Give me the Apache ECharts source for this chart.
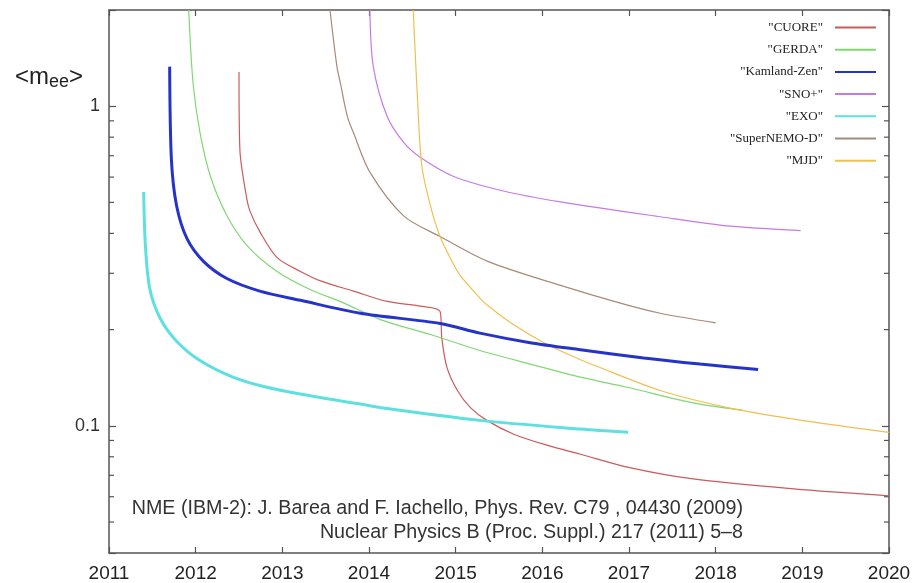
<!DOCTYPE html>
<html>
<head>
<meta charset="utf-8">
<script src="https://cdn.jsdelivr.net/npm/echarts@6/dist/echarts.min.js"></script>
<style>
  html, body { margin: 0; padding: 0; background: #fff; }
  #chart { width: 914px; height: 583px; }
</style>
</head>
<body>
<div id="chart"></div>
<script>
// ---- data (year, <m_ee> in eV) ----
const seriesNames = ['"CUORE"', '"GERDA"', '"Kamland-Zen"', '"SNO+"', '"EXO"', '"SuperNEMO-D"', '"MJD"'];

const cuoreYears = [2012.50, 2012.51, 2012.59, 2012.63, 2012.74, 2012.94, 2013.21, 2013.44, 2013.82, 2014.21, 2014.59, 2014.82, 2014.84, 2014.90, 2015.02, 2015.17, 2015.36, 2015.67, 2016.05, 2016.44, 2016.98, 2017.74, 2018.90, 2020.0];
const cuoreVals  = [1.28, 0.733, 0.513, 0.467, 0.405, 0.336, 0.304, 0.284, 0.264, 0.245, 0.237, 0.228, 0.188, 0.152, 0.129, 0.114, 0.104, 0.0941, 0.0870, 0.0815, 0.0743, 0.0682, 0.0635, 0.0604];

const gerdaYears = [2011.92, 2011.97, 2012.05, 2012.17, 2012.36, 2012.59, 2012.94, 2013.32, 2013.70, 2014.13, 2014.71, 2015.28, 2015.86, 2016.44, 2016.98, 2017.74, 2018.31];
const gerdaVals  = [2.0, 1.18, 0.827, 0.604, 0.455, 0.367, 0.304, 0.267, 0.243, 0.215, 0.193, 0.172, 0.156, 0.142, 0.132, 0.118, 0.112];

const kamlandYears = [2011.70, 2011.72, 2011.78, 2011.90, 2012.09, 2012.36, 2012.74, 2013.21, 2013.90, 2014.82, 2015.28, 2015.86, 2016.44, 2017.17, 2017.82, 2018.49];
const kamlandVals  = [1.33, 0.682, 0.488, 0.385, 0.327, 0.289, 0.264, 0.247, 0.225, 0.209, 0.195, 0.182, 0.173, 0.163, 0.156, 0.150];

const snoYears = [2014.01, 2014.05, 2014.21, 2014.40, 2014.59, 2014.97, 2015.55, 2016.21, 2017.36, 2018.14, 2018.98];
const snoVals  = [2.0, 1.33, 0.928, 0.770, 0.692, 0.604, 0.543, 0.502, 0.451, 0.422, 0.408];

const exoYears = [2011.40, 2011.42, 2011.47, 2011.59, 2011.78, 2012.05, 2012.43, 2012.82, 2013.40, 2013.90, 2014.13, 2015.28, 2016.44, 2016.99];
const exoVals  = [0.539, 0.366, 0.269, 0.217, 0.184, 0.160, 0.142, 0.132, 0.123, 0.117, 0.114, 0.104, 0.0977, 0.0954];

const nemoYears = [2013.55, 2013.63, 2013.67, 2013.75, 2013.82, 2014.01, 2014.40, 2014.82, 2015.37, 2016.21, 2016.90, 2017.36, 2018.0];
const nemoVals  = [2.0, 1.33, 1.18, 0.930, 0.827, 0.622, 0.454, 0.391, 0.327, 0.275, 0.242, 0.225, 0.210];

const mjdYears = [2014.51, 2014.56, 2014.61, 2014.71, 2014.82, 2014.94, 2015.05, 2015.28, 2015.37, 2015.67, 2016.05, 2016.44, 2016.59, 2017.36, 2018.14, 2018.90, 2020.0];
const mjdVals  = [2.0, 1.05, 0.649, 0.487, 0.391, 0.334, 0.296, 0.251, 0.238, 0.207, 0.180, 0.161, 0.155, 0.129, 0.114, 0.105, 0.0954];

const xTicks = [2011, 2020, 1];           // min, max, interval
const yRange = [0.04, 2];
const yMinorTicks = [0.05, 0.06, 0.07, 0.08, 0.09, 0.2, 0.3, 0.4, 0.5, 0.6, 0.7, 0.8, 0.9];

const colors = ['#cc5a5a', '#7fd870', '#2633c8', '#c47ae8', '#5ee0e0', '#a88a78', '#eec050'];
const widths = [1.2, 1.2, 3, 1.2, 3, 1.2, 1.2];

function zip(xs, ys) { return xs.map((x, i) => [x, ys[i]]); }
const allData = [
  zip(cuoreYears, cuoreVals), zip(gerdaYears, gerdaVals), zip(kamlandYears, kamlandVals),
  zip(snoYears, snoVals), zip(exoYears, exoVals), zip(nemoYears, nemoVals), zip(mjdYears, mjdVals)
];

const axisColor = '#555';
const chart = echarts.init(document.getElementById('chart'), null, { renderer: 'canvas' });

const lineSeries = seriesNames.map((n, i) => ({
  name: n,
  type: 'line',
  data: allData[i],
  symbol: 'none',
  showSymbol: false,
  smooth: 0.3,
  clip: true,
  z: i === 2 || i === 4 ? 3 : 2,
  lineStyle: { color: colors[i], width: widths[i] },
  itemStyle: { color: colors[i] },
  emphasis: { disabled: true },
  animation: false
}));

const minorTickSeries = {
  type: 'custom',
  xAxisIndex: 0,
  yAxisIndex: 0,
  data: yMinorTicks.map(v => [xTicks[0], v]),
  silent: true,
  animation: false,
  renderItem: function (params, api) {
    const v = api.value(1);
    const pl = api.coord([xTicks[0], v]);
    const pr = api.coord([xTicks[1], v]);
    return {
      type: 'group',
      children: [
        { type: 'line', shape: { x1: pl[0], y1: pl[1], x2: pl[0] + 5, y2: pl[1] }, style: { stroke: axisColor, lineWidth: 1.2 } },
        { type: 'line', shape: { x1: pr[0], y1: pr[1], x2: pr[0] - 5, y2: pr[1] }, style: { stroke: axisColor, lineWidth: 1.2 } }
      ]
    };
  }
};

const xAxisCommon = {
  type: 'value', min: xTicks[0], max: xTicks[1], interval: xTicks[2],
  axisLine: { show: true, lineStyle: { color: axisColor, width: 1.5 } },
  axisTick: { show: true, inside: true, length: 6, lineStyle: { color: axisColor, width: 1.2 } },
  splitLine: { show: false }
};
const yAxisCommon = {
  type: 'log', logBase: 10, min: yRange[0], max: yRange[1],
  axisLine: { show: true, lineStyle: { color: axisColor, width: 1.5 } },
  axisTick: { show: true, inside: true, length: 7, lineStyle: { color: axisColor, width: 1.2 } },
  splitLine: { show: false },
  minorTick: { show: false }
};

chart.setOption({
  backgroundColor: '#ffffff',
  animation: false,
  grid: { left: 109, right: 25, top: 10, bottom: 28, containLabel: false },
  legend: {
    data: seriesNames,
    orient: 'vertical',
    align: 'right',
    right: 32,
    top: 16,
    itemWidth: 41,
    itemHeight: 12,
    itemGap: 9.2,
    itemStyle: { opacity: 0 },
    textStyle: { fontFamily: 'Liberation Serif', fontSize: 13, color: '#222', lineHeight: 12, padding: [0, 7, 0, 0] },
    selectedMode: false
  },
  xAxis: [
    Object.assign({}, xAxisCommon, {
      position: 'bottom',
      axisLabel: { show: true, fontFamily: 'Liberation Sans', fontSize: 19, color: '#222', margin: 11,
        formatter: function (v) { return String(v); } }
    }),
    Object.assign({}, xAxisCommon, { position: 'top', axisLabel: { show: false } })
  ],
  yAxis: [
    Object.assign({}, yAxisCommon, {
      position: 'left',
      axisLabel: {
        show: true, fontFamily: 'Liberation Sans', fontSize: 18, color: '#333', margin: 9,
        formatter: function (v) {
          if (Math.abs(v - 1) < 1e-6) return '1';
          if (Math.abs(v - 0.1) < 1e-7) return '0.1';
          return '';
        }
      }
    }),
    Object.assign({}, yAxisCommon, { position: 'right', axisLabel: { show: false } })
  ],
  graphic: [
    {
      type: 'text', left: 15, top: 64,
      style: {
        text: '{a|<m}{b|ee}{a|>}',
        rich: {
          a: { fontFamily: 'Liberation Sans', fontSize: 24, fill: '#222', lineHeight: 26 },
          b: { fontFamily: 'Liberation Sans', fontSize: 18, fill: '#222', lineHeight: 26, padding: [9, 0, 0, 0] }
        }
      }
    },
    {
      type: 'text', right: 914 - 743, top: 499,
      style: {
        text: 'NME (IBM-2): J. Barea and F. Iachello, Phys. Rev. C79 , 04430 (2009)',
        font: '19.7px "Liberation Sans"', fill: '#333', textAlign: 'right'
      }
    },
    {
      type: 'text', right: 914 - 743, top: 523,
      style: {
        text: 'Nuclear Physics B (Proc. Suppl.) 217 (2011) 5\u20138',
        font: '19.7px "Liberation Sans"', fill: '#333', textAlign: 'right'
      }
    }
  ],
  series: lineSeries.concat([minorTickSeries])
});
</script>
</body>
</html>
